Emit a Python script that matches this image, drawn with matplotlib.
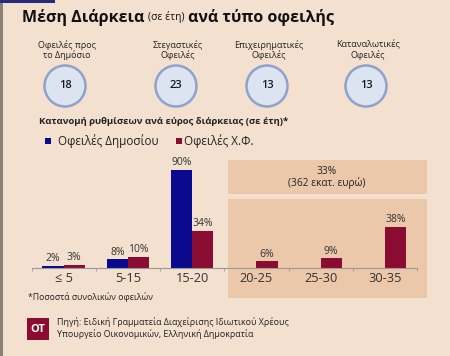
import matplotlib
matplotlib.use("Agg")
import matplotlib.pyplot as plt
from matplotlib.patches import Rectangle, Ellipse
import numpy as np

plt.rcParams['font.family'] = ['Open Sans', 'DejaVu Sans']

W, H = 450, 356

# data
debt_types = ["Οφειλές προς\nτο Δημόσιο", "Στεγαστικές\nΟφειλές",
              "Επιχειρηματικές\nΟφειλές", "Καταναλωτικές\nΟφειλές"]
avg_years = [18, 23, 13, 13]

ranges = ["≤ 5", "5-15", "15-20", "20-25", "25-30", "30-35"]
public_debt = [2, 8, 90, 0, 0, 0]
private_debt = [3, 10, 34, 6, 9, 38]

BG = "#F3E0CE"
SHADE = "#EBC8A9"
BLUE = "#0B0A8E"
RED = "#8A0C33"
TXT = "#222222"


def fx(px):
    return px / W


def fy(py):
    return 1 - py / H


fig = plt.figure(figsize=(W / 100, H / 100), dpi=100)
fig.patch.set_facecolor(BG)

# frame bits
fig.add_artist(Rectangle((0, 0), fx(3), 1, transform=fig.transFigure,
                         color="#8a8078", lw=0))
fig.add_artist(Rectangle((0, fy(3)), fx(55), 3 / H, transform=fig.transFigure,
                         color="#2a2a7a", lw=0))

# title
t1 = fig.text(fx(22), fy(17), "Μέση Διάρκεια ", fontsize=11.5, weight="bold",
              va="center", color="#111111")
fig.canvas.draw()
r = fig.canvas.get_renderer()
bb = t1.get_window_extent(r)
t2 = fig.text(bb.x1 / W, fy(17), "(σε έτη) ", fontsize=7.5, va="center",
              color="#111111")
bb2 = t2.get_window_extent(r)
fig.text(bb2.x1 / W, fy(17), "ανά τύπο οφειλής", fontsize=11.5, weight="bold",
         va="center", color="#111111")

# circles with averages
cx = [65, 176, 267, 366]
for x, lab, v in zip(cx, debt_types, avg_years):
    fig.text(fx(x + 2), fy(50), lab, fontsize=6.5, ha="center", va="center",
             color=TXT, linespacing=1.1)
    fig.add_artist(Ellipse((fx(x), fy(86)), 41 / W, 41 / H,
                           transform=fig.transFigure,
                           facecolor="#DCE3F1", edgecolor="#8FA2CC", lw=1.8))
    fig.text(fx(x), fy(86), str(v), fontsize=8, ha="center", va="center",
             color="#1a1a1a", weight="semibold")

# subtitle + legend
fig.text(fx(39), fy(121), "Κατανομή ρυθμίσεων ανά εύρος διάρκειας (σε έτη)*",
         fontsize=6.8, weight="bold", va="center", color=TXT)
fig.add_artist(Rectangle((fx(45), fy(144)), 6 / W, 6 / H,
                         transform=fig.transFigure, color=BLUE, lw=0))
fig.text(fx(58), fy(141), "Οφειλές Δημοσίου", fontsize=8.4, va="center",
         color=TXT)
fig.add_artist(Rectangle((fx(176), fy(144)), 6 / W, 6 / H,
                         transform=fig.transFigure, color=RED, lw=0))
fig.text(fx(184), fy(141), "Οφειλές Χ.Φ.", fontsize=8.4, va="center",
         color=TXT)

# shaded boxes
fig.add_artist(Rectangle((fx(228), fy(194)), 199 / W, 34 / H,
                         transform=fig.transFigure, color=SHADE, lw=0,
                         zorder=0))
fig.add_artist(Rectangle((fx(228), fy(298)), 199 / W, 99 / H,
                         transform=fig.transFigure, color=SHADE, lw=0,
                         zorder=0))
fig.text(fx(327), fy(177.5), "33%\n(362 εκατ. ευρώ)", fontsize=7.3,
         ha="center", va="center", color=TXT, linespacing=1.1)

# bar chart
ax = fig.add_axes([fx(31.5), fy(268), (417 - 31.5) / W, 109 / H])
ax.set_facecolor("none")
ax.set_zorder(2)
x = np.arange(len(ranges))
bw = 0.33
b1 = ax.bar(x - bw / 2, public_debt, bw, color=BLUE)
b2 = ax.bar(x + bw / 2, private_debt, bw, color=RED)
for rect, v in zip(b1, public_debt):
    if v:
        ax.text(rect.get_x() + rect.get_width() / 2, v + 1.5, f"{v}%",
                ha="center", va="bottom", fontsize=7.5, color="#333333")
for rect, v in zip(b2, private_debt):
    ax.text(rect.get_x() + rect.get_width() / 2, v + 1.5, f"{v}%",
            ha="center", va="bottom", fontsize=7.5, color="#333333")

ax.set_xlim(-0.5, len(ranges) - 0.5)
ax.set_ylim(0, 100)
for s in ["top", "right", "left"]:
    ax.spines[s].set_visible(False)
ax.spines["bottom"].set_color("#999999")
ax.spines["bottom"].set_linewidth(0.8)
ax.set_yticks([])
ax.set_xticks(x)
ax.set_xticklabels(ranges, fontsize=9.2, color="#333333")
ax.tick_params(axis="x", length=0, pad=3)
ax.set_xticks(np.arange(-0.5, len(ranges)), minor=True)
ax.tick_params(axis="x", which="minor", length=2, color="#999999")

# footnote and source
fig.text(fx(28), fy(297), "*Ποσοστά συνολικών οφειλών", fontsize=6.2,
         va="center", color=TXT)
fig.add_artist(Rectangle((fx(27), fy(340)), 22 / W, 22 / H,
                         transform=fig.transFigure, color=RED, lw=0))
fig.text(fx(38), fy(329.5), "OT", fontsize=8, weight="bold", color="white",
         ha="center", va="center")
fig.text(fx(57), fy(322), "Πηγή: Ειδική Γραμματεία Διαχείρισης Ιδιωτικού Χρέους",
         fontsize=6.4, va="center", color=TXT)
fig.text(fx(57), fy(334), "Υπουργείο Οικονομικών, Ελληνική Δημοκρατία",
         fontsize=6.4, va="center", color=TXT)

fig.savefig("out.png", dpi=100, facecolor=BG)
